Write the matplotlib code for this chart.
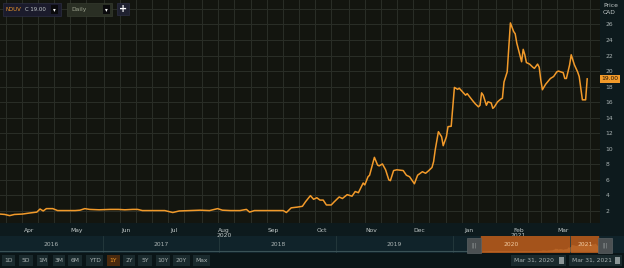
import numpy as np
import pandas as pd
import matplotlib
matplotlib.use("Agg")
import matplotlib.pyplot as plt
import matplotlib.dates as mdates
import matplotlib.transforms as mtransforms
from matplotlib.patches import Rectangle

# ---------------------------
# data
# ---------------------------
start = pd.Timestamp("2020-03-28")
day = [0, 3, 6, 9, 14, 19, 23, 25, 27, 29, 33, 36, 41, 47, 50, 53, 56, 62, 69, 74,
       78, 83, 86, 89, 97, 103, 108, 112, 119, 125, 131, 136, 139, 144, 150, 154, 156,
       159, 166, 172, 177, 179, 182, 186, 189, 191, 194, 196, 198, 200, 202, 204, 207,
       209, 212, 214, 217, 220, 222, 224, 227, 228, 230, 231, 234, 236, 237, 239, 241,
       243, 244, 246, 248, 252, 254, 256, 259, 261, 264, 266, 268, 270, 271, 272, 274,
       276, 277, 279, 280, 282, 284, 286, 287, 289, 291, 292, 295, 297, 299, 300, 301,
       302, 304, 305, 307, 308, 309, 311, 313, 314, 315, 317, 318, 319, 321, 322, 323,
       326, 327, 328, 329, 331, 333, 334, 336, 337, 338, 339, 341, 344, 346, 348, 349,
       352, 353, 354, 356, 357, 359, 361, 362, 363, 364, 366, 367]
price = [1.6, 1.55, 1.4, 1.55, 1.6, 1.75, 1.85, 2.25, 2.0, 2.3, 2.3, 2.05, 2.05, 2.05,
         2.1, 2.3, 2.2, 2.15, 2.2, 2.2, 2.15, 2.2, 2.2, 2.05, 2.05, 2.05, 1.8, 2.0, 2.05,
         2.1, 2.05, 2.3, 2.1, 2.05, 2.05, 2.2, 1.85, 2.05, 2.05, 2.05, 2.05, 1.8, 2.4,
         2.5, 2.6, 3.2, 3.97, 3.5, 3.7, 3.4, 3.4, 2.77, 2.77, 3.2, 3.8, 3.6, 4.1, 3.9,
         4.5, 4.35, 5.6, 5.35, 6.4, 6.6, 8.9, 7.9, 7.8, 8.05, 7.3, 6.0, 5.9, 7.2, 7.3,
         7.2, 6.6, 6.4, 5.5, 6.6, 7.05, 6.85, 7.2, 7.6, 8.35, 9.85, 12.2, 11.55, 10.4,
         11.55, 12.85, 12.9, 17.9, 17.65, 17.8, 17.35, 16.9, 17.1, 16.3, 15.8, 15.4,
         15.6, 17.2, 16.9, 15.6, 16.05, 15.9, 15.2, 15.4, 16.05, 16.4, 16.5, 18.6, 19.9,
         23.1, 26.2, 25.1, 24.8, 23.6, 21.2, 22.8, 22.1, 21.1, 20.9, 20.5, 20.35, 20.9,
         20.5, 18.85, 17.6, 18.3, 19.05, 19.3, 19.9, 20.0, 19.8, 19.05, 19.05, 20.8,
         22.1, 20.8, 19.9, 19.3, 17.8, 16.3, 16.3, 19.0]
dates = start + pd.to_timedelta(day, unit="D")

last_price = 19.00
ticker = "NOUV"
y_ticks = [2, 4, 6, 8, 10, 12, 14, 16, 18, 20, 22, 24, 26, 28]
y_labels = ["2", "4", "6", "8", "10", "12", "14", "16", "18", "20", "22", "24", "26", ""]
month_ticks = pd.to_datetime(["2020-04-15", "2020-05-15", "2020-06-15", "2020-07-15",
                              "2020-08-15", "2020-09-15", "2020-10-15", "2020-11-15",
                              "2020-12-15", "2021-01-15", "2021-02-15", "2021-03-15"])
month_labels = ["Apr", "May", "Jun", "Jul", "Aug\n2020", "Sep", "Oct", "Nov", "Dec",
                "Jan", "Feb\n2021", "Mar"]
nav_years = [2016, 2017, 2018, 2019, 2020, 2021]
range_start = pd.Timestamp("2020-03-31")
range_end = pd.Timestamp("2021-03-31")
buttons = ["1D", "5D", "1M", "3M", "6M", "YTD", "1Y", "2Y", "5Y", "10Y", "20Y", "Max"]
active_button = "1Y"

# ---------------------------
# colours / geometry
# ---------------------------
W, H = 624, 268
ORANGE = "#f29a2a"
BG_PLOT = "#13150f"
BG_PANEL = "#0d1a1d"
BG_NAV = "#10232a"
BG_BAR = "#0a1517"
GRID = "#2a2e27"
TXT = "#aab3b3"


def fx(px):
    return px / W


def fy(py):
    return 1 - py / H


def box(x0, y0, x1, y1, color, ec="none", z=1):
    fig.patches.append(Rectangle((fx(x0), fy(y1)), fx(x1 - x0), (y1 - y0) / H,
                                 transform=fig.transFigure, facecolor=color,
                                 edgecolor=ec, linewidth=0.5, zorder=z))


fig = plt.figure(figsize=(W / 100, H / 100), dpi=100)
fig.patch.set_facecolor(BG_PANEL)

# navigator + bottom bar backgrounds (under the axes)
box(0, 236, W, 253, BG_NAV, z=-2)
box(0, 253, W, H, BG_BAR, z=-2)

# ---------------------------
# main price axes
# ---------------------------
ax = fig.add_axes([0, fy(223), fx(600), 223 / H])
ax.set_facecolor(BG_PLOT)
ax.plot(dates, price, color=ORANGE, lw=1.1, solid_joinstyle="round", zorder=3)

ax.set_xlim(start, start + pd.Timedelta(days=375))
ax.set_ylim(0.45, 29.15)
for s in ax.spines.values():
    s.set_visible(False)

ax.set_yticks(y_ticks)
ax.set_yticklabels(y_labels)
ax.yaxis.tick_right()
ax.tick_params(axis="y", length=0, pad=4, labelsize=4.3, labelcolor=TXT)

ax.set_xticks(month_ticks)
ax.set_xticklabels(month_labels)
ax.xaxis.set_minor_locator(mdates.DayLocator(bymonthday=[1, 11, 21]))
ax.tick_params(axis="x", which="both", length=0, pad=3.5, labelsize=4.3, labelcolor="#c3caca")
for lbl in ax.get_xticklabels():
    lbl.set_linespacing(1.15)

ax.grid(False)
ax.yaxis.grid(True, which="major", color=GRID, lw=0.7)
ax.xaxis.grid(True, which="minor", color=GRID, lw=0.7)
ax.set_axisbelow(True)

# last price tag on the right axis
tr = mtransforms.blended_transform_factory(ax.transAxes, ax.transData)
ax.text(1.016, last_price, f"{last_price:.2f}", transform=tr, ha="center", va="center",
        fontsize=4.3, color="#1a1208", clip_on=False, zorder=5,
        bbox=dict(boxstyle="square,pad=0.25", facecolor=ORANGE, edgecolor="none"))

fig.text(fx(603), fy(5.5), "Price", fontsize=4.3, color="#c3caca", va="center")
fig.text(fx(603), fy(12.5), "CAD", fontsize=4.3, color="#c3caca", va="center")

# ---------------------------
# navigator strip
# ---------------------------
nav = fig.add_axes([0, fy(253), fx(600), 17 / H])
nav.patch.set_alpha(0)
nav_start = pd.Timestamp("2016-02-14")
nav_end = pd.Timestamp("2021-04-06")
nav.set_xlim(nav_start, nav_end)
nav.set_ylim(-4, 40)
nav.axis("off")
nav.axvspan(range_start, range_end, color="#a4531b", zorder=1)
nav.fill_between(dates, 0, price, color="#d27a34", alpha=0.45, lw=0, zorder=2)
nav.plot([nav_start, range_start], [1.4, 1.4], color="#3a5256", lw=0.8, zorder=2)
for yr in nav_years:
    y0 = max(pd.Timestamp(f"{yr}-01-01"), nav_start)
    y1 = min(pd.Timestamp(f"{yr + 1}-01-01"), nav_end)
    if yr > nav_years[0]:
        nav.axvline(pd.Timestamp(f"{yr}-01-01"), color="#263a3e", lw=0.6, zorder=1)
    inside = y0 >= range_start - pd.Timedelta(days=100)
    nav.text(y0 + (y1 - y0) / 2, 19, str(yr), ha="center", va="center",
             fontsize=4.3, color="#f0c9a0" if inside else TXT, zorder=4)

# range handles, placed at the range ends
for d, side in [(range_start, -1), (range_end, 1)]:
    px = nav.transData.transform((mdates.date2num(d), 0))[0]
    x0 = px if side > 0 else px - 14
    box(x0, 238, x0 + 14, 253, "#4b5052", ec="#5c6264", z=3)
    fig.text(fx(x0 + 7), fy(245.5), "|||", ha="center", va="center",
             fontsize=3.5, color="#9aa0a0", zorder=4)

# ---------------------------
# range buttons / date boxes
# ---------------------------
btn_x = [2, 19, 37, 53, 68, 86, 107, 123, 138, 156, 173, 193]
btn_w = [13, 14, 11, 12, 14, 17, 13, 12, 14, 14, 17, 17]
for name, bx, bw in zip(buttons, btn_x, btn_w):
    on = name == active_button
    box(bx, 255, bx + bw, 266, "#4a2a0e" if on else "#1a2a2d")
    fig.text(fx(bx + bw / 2), fy(260.5), name, ha="center", va="center", fontsize=4.3,
             color=ORANGE if on else "#a9b2b2")

for txt, bx0, bx1 in [("Mar 31, 2020", 511, 566), ("Mar 31, 2021", 569, 622)]:
    box(bx0, 255, bx1, 266, "#1a2a2d")
    fig.text(fx(bx0 + 3), fy(260.5), txt, ha="left", va="center", fontsize=4.3, color="#a9b2b2")
    box(bx1 - 7, 257, bx1 - 2, 264, "#8b9596")

# ---------------------------
# top toolbar
# ---------------------------
box(3, 3, 61, 16, "#1b1b2c", ec="#2c2e42", z=5)
fig.text(fx(6), fy(9.5), ticker, fontsize=3.9, color=ORANGE, va="center", zorder=6)
fig.text(fx(25), fy(9.5), f"C {last_price:.2f}", fontsize=3.9, color="#c3caca", va="center", zorder=6)
box(51, 5, 58, 14, "#0a0a0c", z=6)
fig.text(fx(54.5), fy(9.5), "▾", fontsize=4, color="white", ha="center", va="center", zorder=7)
box(67, 3, 112, 16, "#2a2f24", ec="#363b2f", z=5)
fig.text(fx(71), fy(9.5), "Daily", fontsize=4.3, color="#9da38f", va="center", zorder=6)
box(103, 5, 110, 14, "#0a0a0c", z=6)
fig.text(fx(106.5), fy(9.5), "▾", fontsize=4, color="white", ha="center", va="center", zorder=7)
box(117, 3, 129, 15, "#1f2130", ec="#2c2e42", z=5)
fig.text(fx(123), fy(9), "+", fontsize=7, color="white", ha="center", va="center",
         fontweight="bold", zorder=6)

fig.savefig("out.png", dpi=100, facecolor=fig.get_facecolor())
